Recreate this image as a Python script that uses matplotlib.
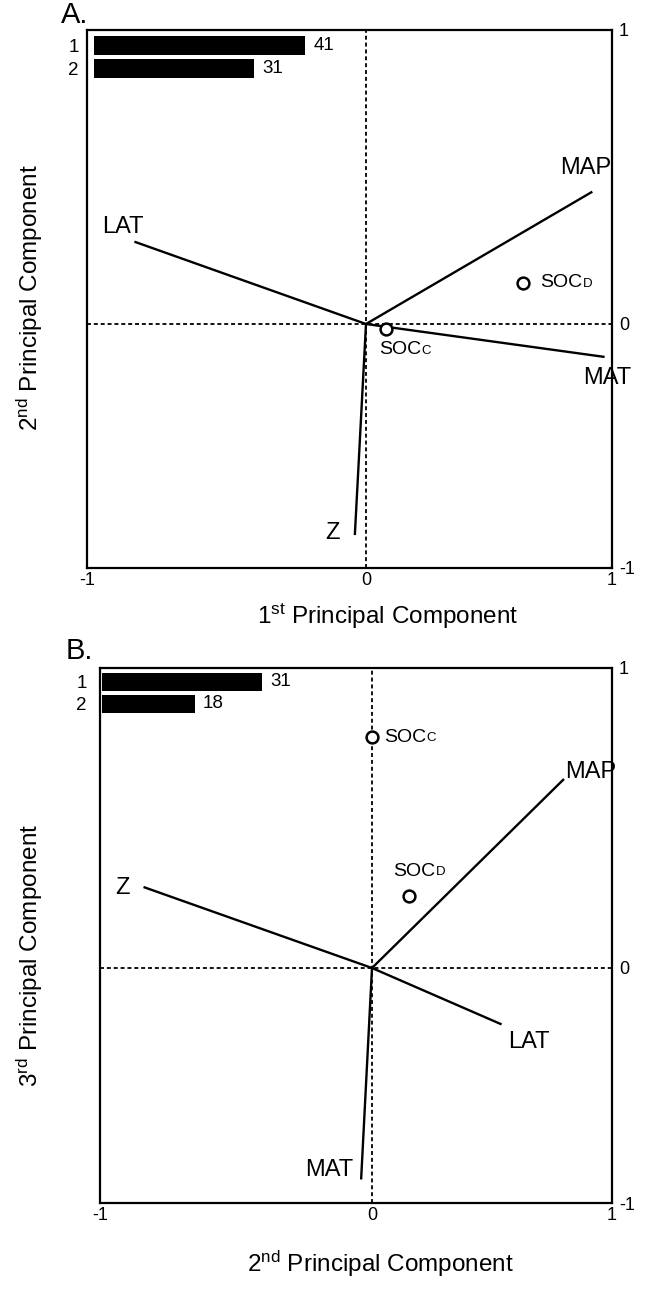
import matplotlib
matplotlib.use('Agg')
import numpy as np
import matplotlib.pyplot as plt

plt.rcParams['font.family'] = ['Liberation Sans', 'DejaVu Sans']
plt.rcParams['mathtext.fontset'] = 'custom'
plt.rcParams['mathtext.rm'] = 'Liberation Sans'
plt.rcParams['mathtext.it'] = 'Liberation Sans:italic'

# ---------------- data ----------------
# Panel A: PC1 (x) vs PC2 (y)
a_vars = ['LAT', 'MAP', 'MAT', 'Z']
a_vx = [-0.83, 0.92, 0.97, -0.04]
a_vy = [0.28, 0.45, -0.135, -0.865]
a_soc = ['D', 'C']
a_sx = [0.64, 0.08]
a_sy = [0.14, -0.02]
a_pcs = ['1', '2']
a_pct = [41, 31]

# Panel B: PC2 (x) vs PC3 (y)
b_vars = ['Z', 'MAP', 'LAT', 'MAT']
b_vx = [-0.84, 0.80, 0.54, -0.04]
b_vy = [0.27, 0.63, -0.24, -0.90]
b_soc = ['C', 'D']
b_sx = [0.0, 0.155]
b_sy = [0.77, 0.24]
b_pcs = ['1', '2']
b_pct = [31, 18]

ticks = [-1, 0, 1]
tick_labels = ['-1', '0', '1']

# ---------------- layout ----------------
W, H = 667, 1307
fig = plt.figure(figsize=(W / 100, H / 100), dpi=100)


def px_rect(l, t, r, b):
    return [l / W, 1 - b / H, (r - l) / W, (b - t) / H]


def piecewise(kneg, kpos):
    def fwd(v):
        v = np.asarray(v, dtype=float)
        return np.where(v < 0, v * kneg, v * kpos)

    def inv(v):
        v = np.asarray(v, dtype=float)
        return np.where(v < 0, v / kneg, v / kpos)
    return fwd, inv


PT = 0.72  # points per pixel at dpi 100


def draw_panel(rect, xk, yk, inset_rect, letter, letter_xy, xlabel, xlabel_xy,
               ylabel, ylabel_xy, names, vx, vy, name_off, socs, sx, sy, soc_off,
               pcs, pct):
    ax = fig.add_axes(px_rect(*rect))
    ax.set_xscale('function', functions=piecewise(*xk))
    ax.set_yscale('function', functions=piecewise(*yk))
    ax.set_xlim(-1, 1)
    ax.set_ylim(-1, 1)
    for s in ax.spines.values():
        s.set_linewidth(1.6)
    ax.set_xticks(ticks)
    ax.set_xticklabels(tick_labels)
    ax.set_yticks(ticks)
    ax.set_yticklabels(tick_labels)
    ax.minorticks_off()
    ax.yaxis.tick_right()
    ax.tick_params(axis='x', length=0, pad=3, labelsize=13)
    ax.tick_params(axis='y', length=0, pad=5, labelsize=13)
    ax.axhline(0, color='black', lw=1.3, ls=(0, (2.2, 1.6)))
    ax.axvline(0, color='black', lw=1.3, ls=(0, (2.2, 1.6)))

    for n, x, y, (dx, dy) in zip(names, vx, vy, name_off):
        ax.plot([0, x], [0, y], color='black', lw=1.7, solid_capstyle='butt')
        ax.annotate(n, (x, y), xytext=(dx * PT, dy * PT), textcoords='offset points',
                    ha='center', va='center', fontsize=17)

    ax.plot(sx, sy, 'o', ms=8.5, mfc='white', mec='black', mew=1.8, zorder=5)
    for sub, x, y, (dx, dy) in zip(socs, sx, sy, soc_off):
        t = ax.annotate('SOC', (x, y), xytext=(dx * PT, dy * PT), textcoords='offset points',
                        ha='left', va='center', fontsize=14)
        ax.annotate(sub, xy=(1, 0), xycoords=t, xytext=(0.5, 1.3),
                    textcoords='offset points', ha='left', va='bottom', fontsize=9.5)

    fig.text(letter_xy[0] / W, 1 - letter_xy[1] / H, letter, fontsize=21,
             ha='left', va='center')
    fig.text(xlabel_xy[0] / W, 1 - xlabel_xy[1] / H, xlabel,
             fontsize=17.5, ha='center', va='center')
    fig.text(ylabel_xy[0] / W, 1 - ylabel_xy[1] / H, ylabel, rotation=90,
             fontsize=17.5, ha='center', va='center')

    ins = fig.add_axes(px_rect(*inset_rect))
    ypos = list(range(len(pcs)))
    ins.barh(ypos, pct, height=0.8, color='black')
    ins.set_xlim(0, 100)
    ins.set_ylim(len(pcs) - 0.5, -0.5)
    ins.set_yticks(ypos)
    ins.set_yticklabels(pcs)
    ins.set_xticks([])
    ins.tick_params(axis='y', length=0, pad=11, labelsize=13.5)
    for s in ins.spines.values():
        s.set_visible(False)
    ins.patch.set_alpha(0)
    for y, v in zip(ypos, pct):
        ins.annotate(str(v), (v, y), xytext=(6, 0), textcoords='offset points',
                     ha='left', va='center', fontsize=13.5)
    return ax


draw_panel(rect=(87, 30, 612, 568), xk=(279, 246), yk=(244, 294),
           inset_rect=(94, 34, 609, 80),
           letter='A.', letter_xy=(61, 15),
           xlabel=r'1$^{\mathrm{st}}$ Principal Component', xlabel_xy=(388, 616),
           ylabel=r'2$^{\mathrm{nd}}$ Principal Component', ylabel_xy=(30, 298),
           names=a_vars, vx=a_vx, vy=a_vy,
           name_off=[(-12, 15), (-7, 24), (3, -21), (-22, 2)],
           socs=a_soc, sx=a_sx, sy=a_sy, soc_off=[(17, 0), (-7, -21)],
           pcs=a_pcs, pct=a_pct)

draw_panel(rect=(100, 668, 612, 1203), xk=(272, 240), yk=(235, 300),
           inset_rect=(102, 671, 617, 715),
           letter='B.', letter_xy=(66, 651),
           xlabel=r'2$^{\mathrm{nd}}$ Principal Component', xlabel_xy=(380, 1264),
           ylabel=r'3$^{\mathrm{rd}}$ Principal Component', ylabel_xy=(30, 955),
           names=b_vars, vx=b_vx, vy=b_vy,
           name_off=[(-21, -1), (27, 7), (27, -18), (-32, 10)],
           socs=b_soc, sx=b_sx, sy=b_sy, soc_off=[(12, 0), (-16, 25)],
           pcs=b_pcs, pct=b_pct)

fig.savefig('out.png', dpi=100)
